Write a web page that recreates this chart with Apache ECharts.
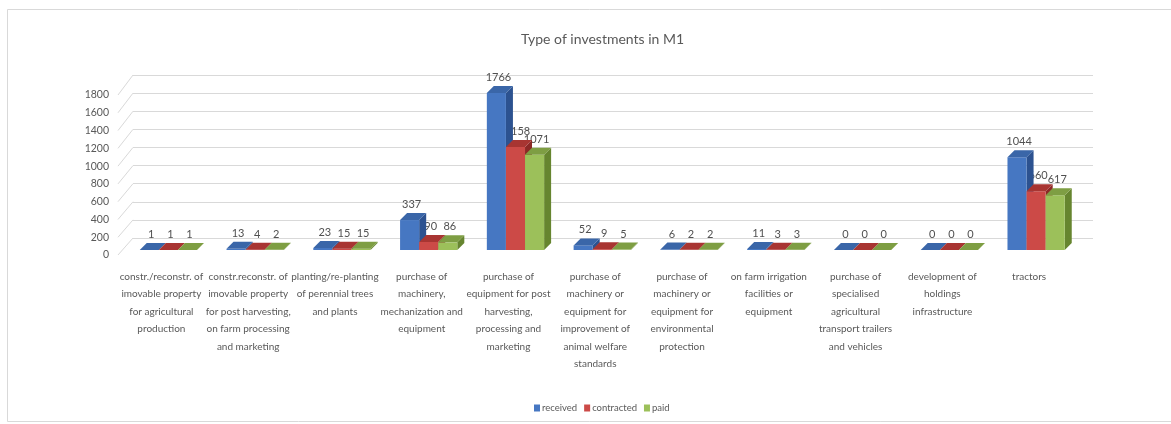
<!DOCTYPE html>
<html>
<head>
<meta charset="utf-8">
<script src="https://cdn.jsdelivr.net/npm/echarts@6/dist/echarts.min.js"></script>
<style>
  html, body { margin: 0; padding: 0; background: #ffffff; }
  #chart { width: 1171px; height: 424px; }
</style>
</head>
<body>
<div id="chart"></div>
<script>
// Investment types (tick labels, wrapped as shown under each group)
const categories = [
  'constr./reconstr. of\nimovable property\nfor agricultural\nproduction',
  'constr.reconstr. of\nimovable property\nfor post harvesting,\non farm processing\nand marketing',
  'planting/re-planting\nof perennial trees\nand plants',
  'purchase of\nmachinery,\nmechanization and\nequipment',
  'purchase of\nequipment for post\nharvesting,\nprocessing and\nmarketing',
  'purchase of\nmachinery or\nequipment for\nimprovement of\nanimal welfare\nstandards',
  'purchase of\nmachinery or\nequipment for\nenvironmental\nprotection',
  'on farm irrigation\nfacilities or\nequipment',
  'purchase of\nspecialised\nagricultural\ntransport trailers\nand vehicles',
  'development of\nholdings\ninfrastructure',
  'tractors'
];

const received   = [1, 13, 23, 337, 1766, 52, 6, 11, 0, 0, 1044];
const contracted = [1, 4, 15, 90, 1158, 9, 2, 3, 0, 0, 660];
const paid       = [1, 2, 15, 86, 1071, 5, 2, 3, 0, 0, 617];

const yTicks = [0, 200, 400, 600, 800, 1000, 1200, 1400, 1600, 1800];

const seriesNames = ['received', 'contracted', 'paid'];
const seriesData = [received, contracted, paid];
// front, top, side shades for each series
const palette = [
  { front: '#4677c2', top: '#3a66a8', side: '#2c5290' },
  { front: '#cc4a47', top: '#a83532', side: '#8c2826' },
  { front: '#9cc05a', top: '#7e9e43', side: '#66852f' }
];

const FONT = "Lato, 'Open Sans', sans-serif";
const DEPTH = 7;       // 3D depth of each column
const SHIFT_X = 7;     // columns sit a little back from the front edge
const SHIFT_Y = -5;

function barGeom(api, k) {
  const i = api.value(0);
  const v = api.value(1);
  const top = api.coord([i, v]);
  const base = api.coord([i, 0]);
  const bw = api.size([1, 0])[0] * 0.22;
  const x0 = top[0] + SHIFT_X - 1.5 * bw + k * bw;
  return { x0, bw, yTop: top[1] + SHIFT_Y, yBase: base[1] + SHIFT_Y };
}

function barRenderer(k) {
  return function (params, api) {
    const g = barGeom(api, k);
    const c = palette[k];
    const d = DEPTH;
    return {
      type: 'group',
      children: [
        { type: 'polygon', shape: { points: [[g.x0 + g.bw, g.yTop], [g.x0 + g.bw + d, g.yTop - d], [g.x0 + g.bw + d, g.yBase - d], [g.x0 + g.bw, g.yBase]] }, style: { fill: c.side } },
        { type: 'rect', shape: { x: g.x0, y: g.yTop, width: g.bw, height: Math.max(0, g.yBase - g.yTop) }, style: { fill: c.front } },
        { type: 'polygon', shape: { points: [[g.x0, g.yTop], [g.x0 + g.bw, g.yTop], [g.x0 + g.bw + d, g.yTop - d], [g.x0 + d, g.yTop - d]] }, style: { fill: c.top } }
      ]
    };
  };
}

function labelRenderer(k) {
  return function (params, api) {
    const g = barGeom(api, k);
    return {
      type: 'text',
      x: g.x0 + g.bw / 2 + 2,
      y: g.yTop - DEPTH - 3,
      style: {
        text: String(api.value(1)),
        align: 'center',
        verticalAlign: 'bottom',
        fill: '#505050',
        font: '11px ' + FONT
      }
    };
  };
}

const series = [];
seriesData.forEach((arr, k) => {
  const data = arr.map((v, i) => [i, v]);
  series.push({
    name: seriesNames[k],
    type: 'custom',
    xAxisIndex: 1,
    yAxisIndex: 1,
    z: 3,
    renderItem: barRenderer(k),
    encode: { x: 0, y: 1 },
    itemStyle: { color: palette[k].front },
    data: data
  });
  series.push({
    name: seriesNames[k] + '-label',
    type: 'custom',
    xAxisIndex: 1,
    yAxisIndex: 1,
    z: 2,
    silent: true,
    renderItem: labelRenderer(k),
    encode: { x: 0, y: 1 },
    data: data
  });
});

const chart = echarts.init(document.getElementById('chart'), null, { renderer: 'canvas' });

const option = {
  backgroundColor: '#ffffff',
  animation: false,
  title: {
    text: 'Type of investments in M1',
    left: 516,
    top: 27,
    textStyle: { fontFamily: FONT, fontSize: 14, fontWeight: 'normal', color: '#595959' }
  },
  legend: {
    data: seriesNames,
    left: 529,
    top: 398,
    icon: 'rect',
    itemWidth: 6,
    itemHeight: 7,
    itemGap: 7,
    textStyle: { fontFamily: FONT, fontSize: 9.5, color: '#595959', padding: [0, 0, 0, -3] }
  },
  grid: [
    // back wall
    { left: 133, right: 78, top: 75, bottom: 186 },
    // front plane: axis labels and columns
    { left: 118, right: 98.5, top: 95, bottom: 169 }
  ],
  xAxis: [
    { type: 'category', gridIndex: 0, data: categories, show: false },
    {
      type: 'category', gridIndex: 1, data: categories,
      axisLine: { show: false }, axisTick: { show: false },
      axisLabel: { interval: 0, margin: 13, lineHeight: 17.5, fontFamily: FONT, fontSize: 10, color: '#595959' }
    }
  ],
  yAxis: [
    {
      type: 'value', gridIndex: 0, min: 0, max: 1800, interval: 200,
      axisLabel: { show: false }, axisLine: { show: false }, axisTick: { show: false },
      splitLine: { lineStyle: { color: '#d9d9d9', width: 1 } }
    },
    {
      type: 'value', gridIndex: 1, min: 0, max: 1800, interval: 200,
      axisLine: { show: false }, axisTick: { show: false }, splitLine: { show: false },
      axisLabel: { margin: 9, fontFamily: FONT, fontSize: 10.5, color: '#595959', formatter: v => String(v) }
    }
  ],
  series: series
};

chart.setOption(option);

// Side wall: diagonal guides joining each front tick to its back-wall gridline,
// plus the outer chart frame.
const frontX = 118;
const backX = 133;
const walls = yTicks.map(v => {
  const yf = chart.convertToPixel({ yAxisIndex: 1 }, v);
  const yb = chart.convertToPixel({ yAxisIndex: 0 }, v);
  return {
    type: 'line',
    silent: true,
    z: 0,
    shape: { x1: frontX, y1: yf, x2: backX, y2: yb },
    style: { stroke: '#d9d9d9', lineWidth: 1 }
  };
});
walls.push({
  type: 'rect',
  silent: true,
  z: 0,
  shape: { x: 7.5, y: 9.5, width: 1200, height: 412 },
  style: { fill: null, stroke: '#d9d9d9', lineWidth: 1 }
});
chart.setOption({ graphic: walls });
</script>
</body>
</html>
